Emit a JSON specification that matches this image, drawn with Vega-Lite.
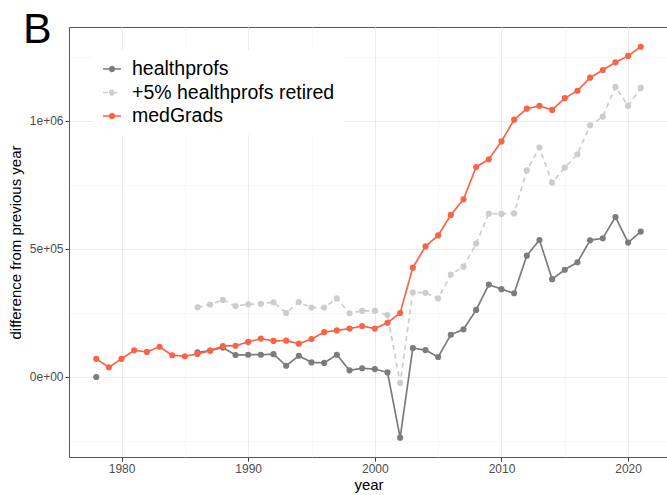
{
  "$schema": "https://vega.github.io/schema/vega-lite/v6.json",
  "width": 599,
  "height": 430,
  "autosize": {"type": "none"},
  "padding": {"left": 69, "top": 27, "right": 0, "bottom": 38},
  "background": "white",
  "title": {
    "text": "B",
    "anchor": "start",
    "frame": "group",
    "orient": "top",
    "font": "Liberation Sans",
    "fontSize": 43,
    "fontWeight": "normal",
    "color": "black",
    "baseline": "alphabetic",
    "offset": 0,
    "dx": -46,
    "dy": 59
  },
  "config": {
    "font": "Liberation Sans",
    "view": {"stroke": "#555555", "strokeWidth": 1},
    "axis": {
      "domain": false,
      "tickColor": "#333333",
      "tickSize": 4,
      "labelColor": "#4d4d4d",
      "labelFont": "Liberation Sans",
      "labelFontSize": 12,
      "labelPadding": 2,
      "titleFont": "Liberation Sans",
      "titleFontSize": 15,
      "titleFontWeight": "normal",
      "titleColor": "black"
    }
  },
  "data": {
    "values": [
      {"year": 1978, "series": "healthprofs", "value": 0},
      {"year": 1979, "series": "healthprofs", "value": null},
      {"year": 1980, "series": "healthprofs", "value": null},
      {"year": 1981, "series": "healthprofs", "value": null},
      {"year": 1982, "series": "healthprofs", "value": null},
      {"year": 1983, "series": "healthprofs", "value": null},
      {"year": 1984, "series": "healthprofs", "value": null},
      {"year": 1985, "series": "healthprofs", "value": null},
      {"year": 1986, "series": "healthprofs", "value": 96000},
      {"year": 1987, "series": "healthprofs", "value": 103000},
      {"year": 1988, "series": "healthprofs", "value": 115000},
      {"year": 1989, "series": "healthprofs", "value": 86000},
      {"year": 1990, "series": "healthprofs", "value": 87000},
      {"year": 1991, "series": "healthprofs", "value": 87000},
      {"year": 1992, "series": "healthprofs", "value": 89000},
      {"year": 1993, "series": "healthprofs", "value": 44000},
      {"year": 1994, "series": "healthprofs", "value": 83000},
      {"year": 1995, "series": "healthprofs", "value": 57000},
      {"year": 1996, "series": "healthprofs", "value": 55000},
      {"year": 1997, "series": "healthprofs", "value": 87000},
      {"year": 1998, "series": "healthprofs", "value": 26000},
      {"year": 1999, "series": "healthprofs", "value": 34000},
      {"year": 2000, "series": "healthprofs", "value": 31000},
      {"year": 2001, "series": "healthprofs", "value": 18000},
      {"year": 2002, "series": "healthprofs", "value": -237000},
      {"year": 2003, "series": "healthprofs", "value": 113000},
      {"year": 2004, "series": "healthprofs", "value": 105000},
      {"year": 2005, "series": "healthprofs", "value": 78000},
      {"year": 2006, "series": "healthprofs", "value": 165000},
      {"year": 2007, "series": "healthprofs", "value": 186000},
      {"year": 2008, "series": "healthprofs", "value": 262000},
      {"year": 2009, "series": "healthprofs", "value": 361000},
      {"year": 2010, "series": "healthprofs", "value": 343000},
      {"year": 2011, "series": "healthprofs", "value": 327000},
      {"year": 2012, "series": "healthprofs", "value": 474000},
      {"year": 2013, "series": "healthprofs", "value": 535000},
      {"year": 2014, "series": "healthprofs", "value": 382000},
      {"year": 2015, "series": "healthprofs", "value": 419000},
      {"year": 2016, "series": "healthprofs", "value": 448000},
      {"year": 2017, "series": "healthprofs", "value": 534000},
      {"year": 2018, "series": "healthprofs", "value": 542000},
      {"year": 2019, "series": "healthprofs", "value": 625000},
      {"year": 2020, "series": "healthprofs", "value": 525000},
      {"year": 2021, "series": "healthprofs", "value": 568000},
      {"year": 1986, "series": "+5% healthprofs retired", "value": 272000},
      {"year": 1987, "series": "+5% healthprofs retired", "value": 283000},
      {"year": 1988, "series": "+5% healthprofs retired", "value": 301000},
      {"year": 1989, "series": "+5% healthprofs retired", "value": 277000},
      {"year": 1990, "series": "+5% healthprofs retired", "value": 284000},
      {"year": 1991, "series": "+5% healthprofs retired", "value": 286000},
      {"year": 1992, "series": "+5% healthprofs retired", "value": 292000},
      {"year": 1993, "series": "+5% healthprofs retired", "value": 250000},
      {"year": 1994, "series": "+5% healthprofs retired", "value": 293000},
      {"year": 1995, "series": "+5% healthprofs retired", "value": 271000},
      {"year": 1996, "series": "+5% healthprofs retired", "value": 271000},
      {"year": 1997, "series": "+5% healthprofs retired", "value": 307000},
      {"year": 1998, "series": "+5% healthprofs retired", "value": 249000},
      {"year": 1999, "series": "+5% healthprofs retired", "value": 258000},
      {"year": 2000, "series": "+5% healthprofs retired", "value": 258000},
      {"year": 2001, "series": "+5% healthprofs retired", "value": 242000},
      {"year": 2002, "series": "+5% healthprofs retired", "value": -23000},
      {"year": 2003, "series": "+5% healthprofs retired", "value": 331000},
      {"year": 2004, "series": "+5% healthprofs retired", "value": 329000},
      {"year": 2005, "series": "+5% healthprofs retired", "value": 307000},
      {"year": 2006, "series": "+5% healthprofs retired", "value": 400000},
      {"year": 2007, "series": "+5% healthprofs retired", "value": 431000},
      {"year": 2008, "series": "+5% healthprofs retired", "value": 521000},
      {"year": 2009, "series": "+5% healthprofs retired", "value": 638000},
      {"year": 2010, "series": "+5% healthprofs retired", "value": 637000},
      {"year": 2011, "series": "+5% healthprofs retired", "value": 639000},
      {"year": 2012, "series": "+5% healthprofs retired", "value": 807000},
      {"year": 2013, "series": "+5% healthprofs retired", "value": 896000},
      {"year": 2014, "series": "+5% healthprofs retired", "value": 759000},
      {"year": 2015, "series": "+5% healthprofs retired", "value": 818000},
      {"year": 2016, "series": "+5% healthprofs retired", "value": 870000},
      {"year": 2017, "series": "+5% healthprofs retired", "value": 983000},
      {"year": 2018, "series": "+5% healthprofs retired", "value": 1017000},
      {"year": 2019, "series": "+5% healthprofs retired", "value": 1133000},
      {"year": 2020, "series": "+5% healthprofs retired", "value": 1059000},
      {"year": 2021, "series": "+5% healthprofs retired", "value": 1129000},
      {"year": 1978, "series": "medGrads", "value": 71000},
      {"year": 1979, "series": "medGrads", "value": 38000},
      {"year": 1980, "series": "medGrads", "value": 71000},
      {"year": 1981, "series": "medGrads", "value": 104000},
      {"year": 1982, "series": "medGrads", "value": 98000},
      {"year": 1983, "series": "medGrads", "value": 118000},
      {"year": 1984, "series": "medGrads", "value": 85000},
      {"year": 1985, "series": "medGrads", "value": 81000},
      {"year": 1986, "series": "medGrads", "value": 90000},
      {"year": 1987, "series": "medGrads", "value": 103000},
      {"year": 1988, "series": "medGrads", "value": 121000},
      {"year": 1989, "series": "medGrads", "value": 122000},
      {"year": 1990, "series": "medGrads", "value": 137000},
      {"year": 1991, "series": "medGrads", "value": 150000},
      {"year": 1992, "series": "medGrads", "value": 141000},
      {"year": 1993, "series": "medGrads", "value": 142000},
      {"year": 1994, "series": "medGrads", "value": 130000},
      {"year": 1995, "series": "medGrads", "value": 148000},
      {"year": 1996, "series": "medGrads", "value": 175000},
      {"year": 1997, "series": "medGrads", "value": 182000},
      {"year": 1998, "series": "medGrads", "value": 189000},
      {"year": 1999, "series": "medGrads", "value": 199000},
      {"year": 2000, "series": "medGrads", "value": 189000},
      {"year": 2001, "series": "medGrads", "value": 212000},
      {"year": 2002, "series": "medGrads", "value": 250000},
      {"year": 2003, "series": "medGrads", "value": 427000},
      {"year": 2004, "series": "medGrads", "value": 510000},
      {"year": 2005, "series": "medGrads", "value": 553000},
      {"year": 2006, "series": "medGrads", "value": 633000},
      {"year": 2007, "series": "medGrads", "value": 694000},
      {"year": 2008, "series": "medGrads", "value": 820000},
      {"year": 2009, "series": "medGrads", "value": 850000},
      {"year": 2010, "series": "medGrads", "value": 920000},
      {"year": 2011, "series": "medGrads", "value": 1005000},
      {"year": 2012, "series": "medGrads", "value": 1048000},
      {"year": 2013, "series": "medGrads", "value": 1059000},
      {"year": 2014, "series": "medGrads", "value": 1043000},
      {"year": 2015, "series": "medGrads", "value": 1089000},
      {"year": 2016, "series": "medGrads", "value": 1118000},
      {"year": 2017, "series": "medGrads", "value": 1169000},
      {"year": 2018, "series": "medGrads", "value": 1199000},
      {"year": 2019, "series": "medGrads", "value": 1229000},
      {"year": 2020, "series": "medGrads", "value": 1254000},
      {"year": 2021, "series": "medGrads", "value": 1290000}
    ]
  },
  "encoding": {
    "x": {
      "field": "year",
      "type": "quantitative",
      "scale": {"domain": [1975.85, 2023.15], "nice": false, "zero": false},
      "axis": {
        "title": "year",
        "titlePadding": 3,
        "values": [1980, 1985, 1990, 1995, 2000, 2005, 2010, 2015, 2020],
        "format": "d",
        "labelExpr": "datum.value % 10 === 0 ? datum.label : ''",
        "tickOpacity": {"condition": {"test": "datum.value % 10 !== 0", "value": 0}, "value": 1},
        "gridColor": {"condition": {"test": "datum.value % 10 !== 0", "value": "#f4f4f4"}, "value": "#ebebeb"},
        "gridWidth": {"condition": {"test": "datum.value % 10 !== 0", "value": 0.6}, "value": 1.1}
      }
    },
    "y": {
      "field": "value",
      "type": "quantitative",
      "scale": {"domain": [-312500, 1367000], "nice": false, "zero": false},
      "axis": {
        "title": "difference from previous year",
        "titlePadding": 6,
        "values": [-250000, 0, 250000, 500000, 750000, 1000000, 1250000],
        "labelExpr": "datum.value === 0 ? '0e+00' : datum.value === 500000 ? '5e+05' : datum.value === 1000000 ? '1e+06' : ''",
        "tickOpacity": {"condition": {"test": "datum.value % 500000 !== 0", "value": 0}, "value": 1},
        "gridColor": {"condition": {"test": "datum.value % 500000 !== 0", "value": "#f4f4f4"}, "value": "#ebebeb"},
        "gridWidth": {"condition": {"test": "datum.value % 500000 !== 0", "value": 0.6}, "value": 1.1}
      }
    },
    "color": {
      "field": "series",
      "type": "nominal",
      "scale": {
        "domain": ["healthprofs", "+5% healthprofs retired", "medGrads"],
        "range": ["#7c7c7c", "#cdcdcd", "#fa6446"]
      },
      "legend": {
        "title": null,
        "orient": "none",
        "legendX": 24,
        "legendY": 23,
        "fillColor": "white",
        "padding": 9,
        "labelFont": "Liberation Sans",
        "labelFontSize": 19.5,
        "labelColor": "black",
        "labelLimit": 0,
        "labelOffset": 10,
        "rowPadding": 3.5,
        "symbolSize": 324,
        "symbolType": "M-1,0L1,0M-0.27,0A0.27,0.27,0,1,1,0.27,0A0.27,0.27,0,1,1,-0.27,0Z",
        "encode": {
          "symbols": {
            "update": {
              "fill": {"scale": "color", "field": "value"},
              "stroke": {"scale": "color", "field": "value"},
              "strokeWidth": {"value": 1.5},
              "opacity": {"value": 1},
              "strokeDash": [
                {"test": "datum.value === '+5% healthprofs retired'", "value": [4, 3]},
                {"value": [1, 0]}
              ]
            }
          }
        }
      }
    }
  },
  "layer": [
    {
      "mark": {"type": "line", "strokeWidth": 1.7, "invalid": "break-paths-filter-domains"},
      "encoding": {
        "strokeDash": {
          "field": "series",
          "type": "nominal",
          "scale": {
            "domain": ["healthprofs", "+5% healthprofs retired", "medGrads"],
            "range": [[1, 0], [5, 4], [1, 0]]
          },
          "legend": null
        }
      }
    },
    {
      "mark": {"type": "point", "filled": true, "size": 38, "opacity": 1, "shape": "circle"},
      "encoding": {}
    }
  ]
}
